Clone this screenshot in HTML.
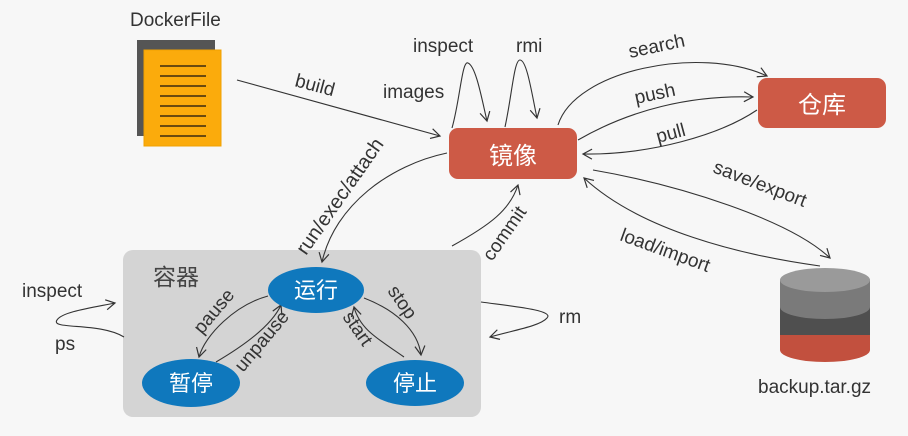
<!DOCTYPE html>
<html><head><meta charset="utf-8"><style>
html,body{margin:0;padding:0;background:#f7f7f7;}
svg{display:block;font-family:"Liberation Sans","Noto Sans CJK SC",sans-serif;}
</style></head><body>
<svg width="908" height="436" viewBox="0 0 908 436" xmlns="http://www.w3.org/2000/svg">
<defs>
<marker id="a" markerWidth="12" markerHeight="12" refX="10" refY="6" orient="auto" markerUnits="userSpaceOnUse">
<path d="M1,1 L10,6 L1,11" fill="none" stroke="#333" stroke-width="1.2"/>
</marker>
</defs>
<rect width="908" height="436" fill="#f7f7f7"/>
<!-- DockerFile -->
<text x="130" y="26" font-size="19" fill="#333">DockerFile</text>
<rect x="137" y="40" width="78" height="96" fill="#555"/>
<rect x="144" y="50" width="77" height="96" fill="#fbab0c" stroke="#f0a000"/>
<g stroke="#3a2a10" stroke-width="1.5">
<line x1="160" y1="66" x2="206" y2="66"/><line x1="160" y1="76" x2="206" y2="76"/>
<line x1="160" y1="86" x2="206" y2="86"/><line x1="160" y1="96" x2="206" y2="96"/>
<line x1="160" y1="106" x2="206" y2="106"/><line x1="160" y1="116" x2="206" y2="116"/>
<line x1="160" y1="126" x2="206" y2="126"/><line x1="160" y1="136" x2="206" y2="136"/>
</g>
<!-- container -->
<rect x="123" y="250" width="358" height="167" rx="10" fill="#d4d4d4"/>
<text x="153" y="285" font-size="23" fill="#444">容器</text>
<!-- boxes -->
<rect x="449" y="128" width="128" height="51" rx="9" fill="#cd5a46"/>
<text x="513" y="164" font-size="24" fill="#fff" text-anchor="middle">镜像</text>
<rect x="758" y="78" width="128" height="50" rx="9" fill="#cd5a46"/>
<text x="822" y="113" font-size="24" fill="#fff" text-anchor="middle">仓库</text>
<g fill="none" stroke="#333" stroke-width="1.1" marker-end="url(#a)">
<path d="M237,80 L440,136"/>
<path d="M452,128 C460,100 462,60 468,63 C476,66 482,100 487,121"/>
<path d="M505,127 C512,95 514,60 520,60 C527,60 532,95 537,118"/>
<path d="M558,125 C575,70 700,45 767,76"/>
<path d="M578,140 C630,110 690,95 753,97"/>
<path d="M757,110 C720,135 650,155 583,154"/>
<path d="M593,170 C680,185 790,220 830,258"/>
<path d="M820,266 C740,255 640,230 584,178"/>
<path d="M447,153 C390,165 335,205 322,262"/>
<path d="M452,246 C490,225 510,210 518,185"/>
<path d="M124,337 C100,322 50,330 57,320 C62,312 90,308 115,303"/>
<path d="M481,302 C510,306 555,310 547,318 C540,326 515,330 490,337"/>
<path d="M268,296 C235,305 205,335 199,357"/>
<path d="M216,362 C245,345 272,325 281,305"/>
<path d="M364,298 C395,310 418,330 421,355"/>
<path d="M404,357 C380,340 360,330 354,307"/>
</g>
<text font-size="19" fill="#333" transform="translate(294,86) rotate(15)">build</text>
<text x="413" y="52" font-size="19" fill="#333">inspect</text>
<text x="383" y="98" font-size="19" fill="#333">images</text>
<text x="516" y="52" font-size="19" fill="#333">rmi</text>
<text font-size="19" fill="#333" transform="translate(630,58) rotate(-12)">search</text>
<text font-size="19" fill="#333" transform="translate(636,104) rotate(-12)">push</text>
<text font-size="19" fill="#333" transform="translate(658,143) rotate(-15)">pull</text>
<text font-size="19" fill="#333" transform="translate(712,172) rotate(21)">save/export</text>
<text font-size="19" fill="#333" transform="translate(619,240) rotate(20)">load/import</text>
<text font-size="20" fill="#333" transform="translate(306,256) rotate(-55)">run/exec/attach</text>
<text font-size="19" fill="#333" transform="translate(492,262) rotate(-55)">commit</text>
<!-- cylinder -->
<path d="M780,335 L780,350 A45,12 0 0 0 870,350 L870,335 Z" fill="#c2503e"/>
<rect x="780" y="307" width="90" height="28" fill="#4f4f4f"/>
<path d="M780,280 L780,307 A45,12 0 0 0 870,307 L870,280 Z" fill="#7a7a7a"/>
<ellipse cx="825" cy="280" rx="45" ry="12" fill="#9a9a9a"/>
<text x="758" y="393" font-size="19" fill="#333">backup.tar.gz</text>
<ellipse cx="316" cy="290" rx="48" ry="23" fill="#0f78bd"/>
<text x="316" y="298" font-size="22" fill="#fff" text-anchor="middle">运行</text>
<ellipse cx="191" cy="383" rx="49" ry="24" fill="#0f78bd"/>
<text x="191" y="391" font-size="22" fill="#fff" text-anchor="middle">暂停</text>
<ellipse cx="415" cy="383" rx="49" ry="23" fill="#0f78bd"/>
<text x="415" y="391" font-size="22" fill="#fff" text-anchor="middle">停止</text>
<text font-size="19" fill="#333" transform="translate(202,335) rotate(-50)">pause</text>
<text font-size="19" fill="#333" transform="translate(243,373) rotate(-50)">unpause</text>
<text font-size="19" fill="#333" transform="translate(387,291) rotate(55)">stop</text>
<text font-size="19" fill="#333" transform="translate(342,317) rotate(55)">start</text>
<text x="22" y="297" font-size="19" fill="#333">inspect</text>
<text x="55" y="350" font-size="19" fill="#333">ps</text>
<text x="559" y="323" font-size="19" fill="#333">rm</text>
</svg>
</body></html>
